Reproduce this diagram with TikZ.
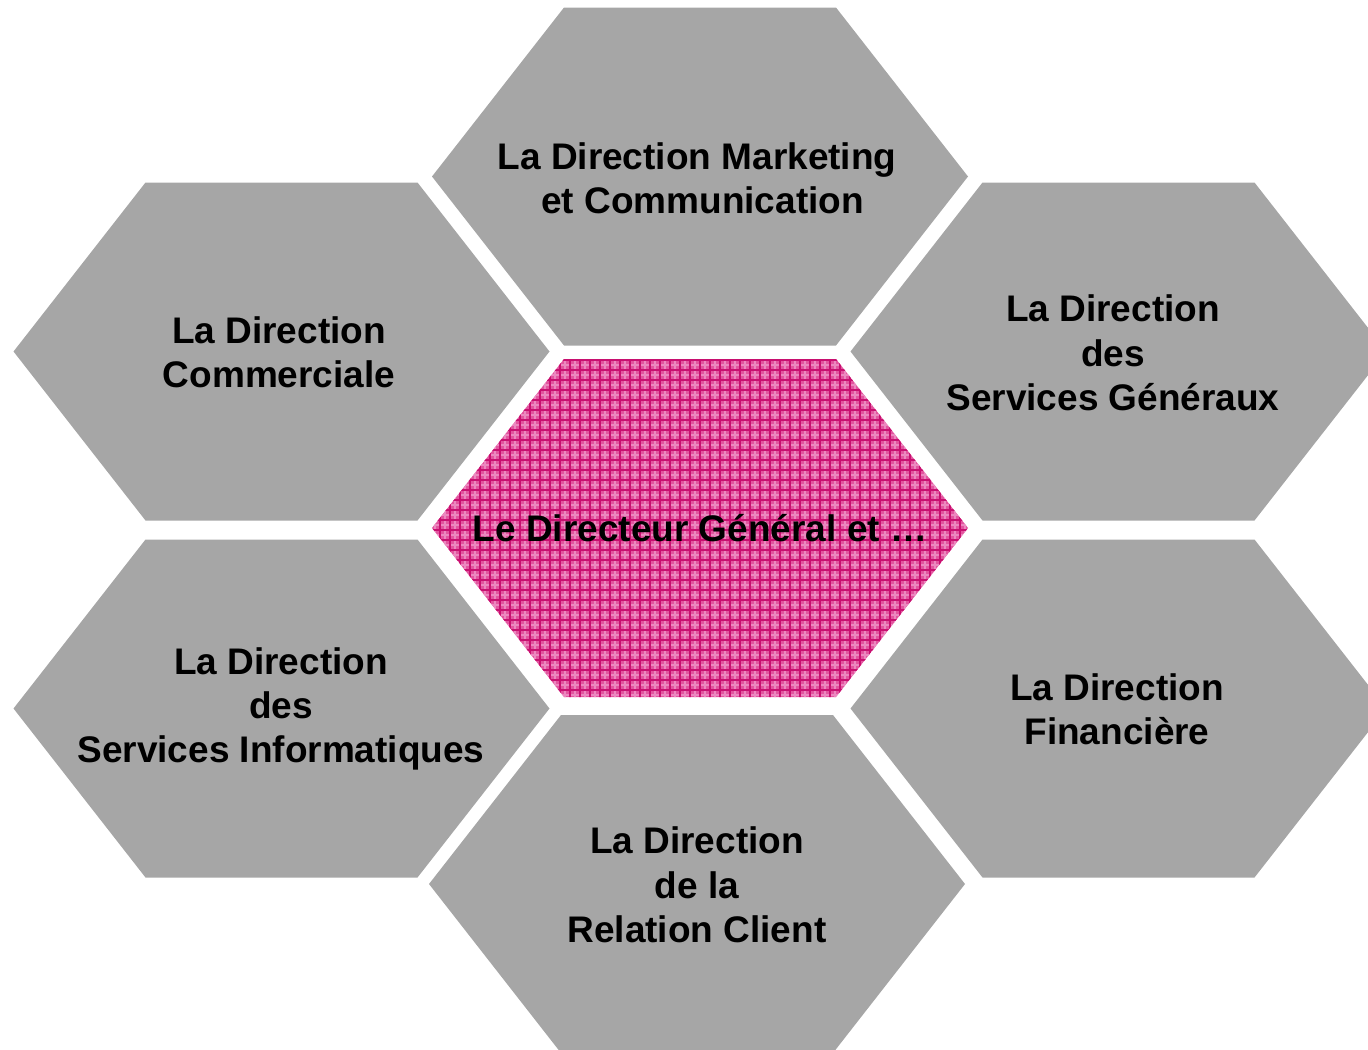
\documentclass[tikz,border=0pt]{standalone}
\usepackage{fontspec}
\setmainfont{Liberation Sans}
\definecolor{hexgray}{HTML}{A6A6A6}
\definecolor{hexpink}{HTML}{E2559F}
\definecolor{gridpink}{HTML}{C81070}
\definecolor{gridlight}{HTML}{EC88BF}
\begin{document}
\begin{tikzpicture}[x=0.75pt,y=-0.75pt,
  hexfill/.style={fill=hexgray},
  lbl/.style={font=\fontsize{27.75}{33.3}\selectfont\bfseries, align=center, text=black, inner sep=0pt}]
\useasboundingbox (0,0) rectangle (1368,1050);
\clip (0,0) rectangle (1368,1050);
\def\hexat#1{(#1) ++(-268,0) -- ++(132,-169) -- ++(272,0) -- ++(132,169) -- ++(-132,169) -- ++(-272,0) -- cycle}
% centres
\coordinate (cT) at (700,176.5);
\coordinate (cC) at (700,528);
\coordinate (cLT) at (281.5,351.5);
\coordinate (cRT) at (1118.5,351.5);
\coordinate (cLB) at (281.5,708.5);
\coordinate (cRB) at (1118.5,708.5);
\coordinate (cB) at (697,884);
% grey hexagons
\path[hexfill] \hexat{cT};
\path[hexfill] \hexat{cLT};
\path[hexfill] \hexat{cRT};
\path[hexfill] \hexat{cLB};
\path[hexfill] \hexat{cRB};
\path[hexfill] \hexat{cB};
% central patterned hexagon
\path[fill=hexpink] \hexat{cC};
\begin{scope}
  \clip \hexat{cC};
  \draw[gridlight, line width=0.8pt, shift={(5,5)}] (420,350) grid[step=7.5pt] (980,710);
  \draw[gridpink, line width=1.2pt] (420,350) grid[step=7.5pt] (980,710);
\end{scope}
% labels
\node[lbl] (tT) at (697,178.5) {La Direction Marketing\\\hspace*{0.3em}et Communication};
\node[lbl] (tLT) at (279,352.5) {La Direction\\Commerciale};
\node[lbl] (tRT) at (1113,353) {La Direction\\des\\Services Généraux};
\node[lbl] (tC) at (700,528) {Le Directeur Général et …};
\node[lbl] (tLB) at (281,709) {La Direction\\des\\Services Informatiques};
\node[lbl] (tRB) at (1117,709) {La Direction\\Financière};
\node[lbl] (tB) at (697,885) {La Direction\\de la\\Relation Client};
\end{tikzpicture}
\end{document}
